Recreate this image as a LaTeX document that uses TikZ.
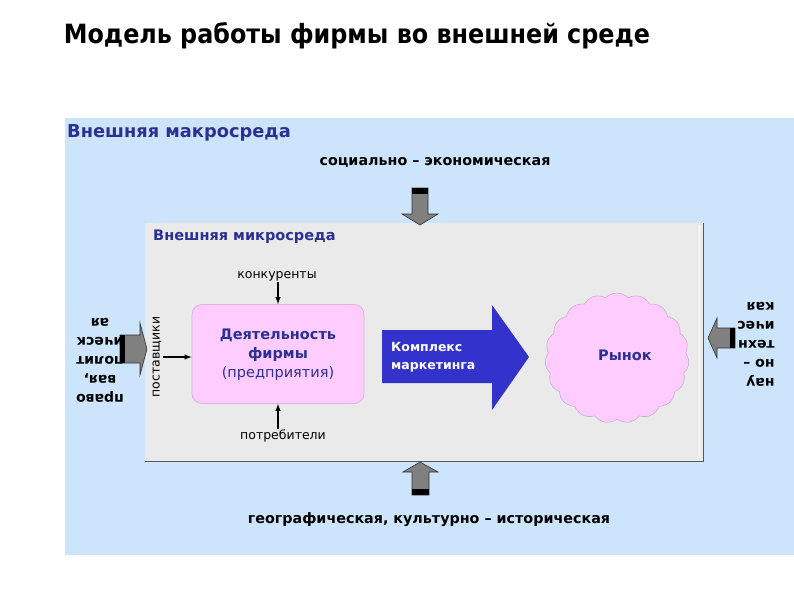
\documentclass[tikz,border=0pt]{standalone}
\usepackage{fontspec}
\setmainfont{DejaVu Sans}
\newfontfamily\condfont{DejaVu Sans Condensed}
\usetikzlibrary{shapes.symbols}
\definecolor{macrobg}{RGB}{204,228,252}
\definecolor{microbg}{RGB}{234,234,234}
\definecolor{pinkfill}{RGB}{255,204,255}
\definecolor{labblue}{RGB}{44,48,148}
\definecolor{arrowblue}{RGB}{51,51,204}
\definecolor{arrgray}{RGB}{128,128,128}
\tikzset{
  boldlab/.style={font=\bfseries\fontsize{14.3}{17}\selectfont, text=black, inner sep=0pt},
  bluehead/.style={font=\bfseries\fontsize{17.8}{20}\selectfont, text=labblue, anchor=west, inner sep=0pt},
  reglab/.style={font=\fontsize{12.5}{15}\selectfont, text=black, inner sep=1pt},
  thinarrow/.style={-latex, line width=1.4pt, black},
  grayarrow/.style={fill=arrgray, draw=black!80, line width=0.6pt, line join=miter},
  sidetext/.style={font=\bfseries\fontsize{14}{19}\selectfont, text=black, rotate=180, inner sep=0pt}
}
\begin{document}
\begin{tikzpicture}[x=1pt,y=-1pt]
\useasboundingbox (0,0) rectangle (794,595);
\fill[white] (0,0) rectangle (794,595);
% title
\node[font=\condfont\bfseries\fontsize{26.5}{30}\selectfont, inner sep=0pt] (title) at (357,36) {Модель работы фирмы во внешней среде};
% macro environment
\fill[macrobg] (65,118) rectangle (794,555);
\node[bluehead] (macro) at (67,133) {Внешняя макросреда};
\node[boldlab] (social) at (435,162) {социально – экономическая};
% micro environment
\fill[microbg] (145,223) rectangle (703,461);
\draw[gray!70!black, line width=1pt] (145,461) -- (703,461) -- (703,223);
\draw[white, line width=0.8pt] (699,225) -- (699,458);
\node[bluehead, font=\bfseries\fontsize{14.5}{17}\selectfont] (micro) at (153,237) {Внешняя микросреда};
% gray arrows
\draw[grayarrow] (412,188) -- (428,188) -- (428,214) -- (438,214) -- (420,225) -- (402,214) -- (412,214) -- cycle;
\fill[black] (412,188) rectangle (428,194);
\draw[grayarrow] (412,495) -- (429,495) -- (429,472) -- (438,472) -- (420,462) -- (403,472) -- (412,472) -- cycle;
\fill[black] (412,489) rectangle (429,495);
\draw[grayarrow] (120,335) -- (140,335) -- (140,323) -- (147,349) -- (140,375) -- (140,363) -- (120,363) -- cycle;
\fill[black] (120,335) rectangle (125,363);
\draw[grayarrow] (735,328) -- (717,328) -- (717,318) -- (708,338) -- (717,358) -- (717,348) -- (735,348) -- cycle;
\fill[black] (730,328) rectangle (735,348);
% side texts
\node[sidetext, align=center] (political) at (100,360) {право\\вая,\\полит\\ическ\\ая};
\node[sidetext, align=left] (science) at (756,344) {нау\\но –\\техн\\ичес\\кая};
% bottom text
\node[boldlab] (geo) at (429,520) {географическая, культурно – историческая};
% firm
\node[draw=pinkfill!70!gray, fill=pinkfill, rounded corners=10pt, minimum width=172pt, minimum height=99pt, line width=0.8pt] (firm) at (278,354) {};
\node[align=center, text=labblue, inner sep=0pt, font=\fontsize{14.5}{19}\selectfont] (firmtext) at (278,355) {\textbf{Деятельность}\\\textbf{фирмы}\\(предприятия)};
\node[reglab] (konk) at (277,276) {конкуренты};
\node[reglab] (potr) at (283,436) {потребители};
\node[reglab, rotate=90] (post) at (157,357) {поставщики};
\draw[thinarrow] (konk.south -| firm.north) -- (firm.north);
\draw[thinarrow] (potr.north -| firm.south) -- (firm.south);
\draw[thinarrow] (post.south) -- (post.south -| firm.west);
% marketing arrow
\fill[arrowblue] (382,330) -- (492,330) -- (492,305) -- (529,357) -- (492,410) -- (492,383) -- (382,383) -- cycle;
\node[anchor=west, align=left, text=white, inner sep=0pt, font=\bfseries\fontsize{12.5}{18}\selectfont] (mix) at (391,357) {Комплекс\\маркетинга};
% market cloud
\node[cloud, cloud puffs=19, cloud puff arc=90, aspect=1.15, minimum width=144pt, minimum height=130pt, fill=pinkfill, draw=pinkfill!60!gray, line width=0.6pt] (market) at (617,358) {};
\node[text=labblue, font=\bfseries\fontsize{14.5}{17}\selectfont, inner sep=0pt] (rynok) at (625,355) {Рынок};
\end{tikzpicture}
\end{document}
